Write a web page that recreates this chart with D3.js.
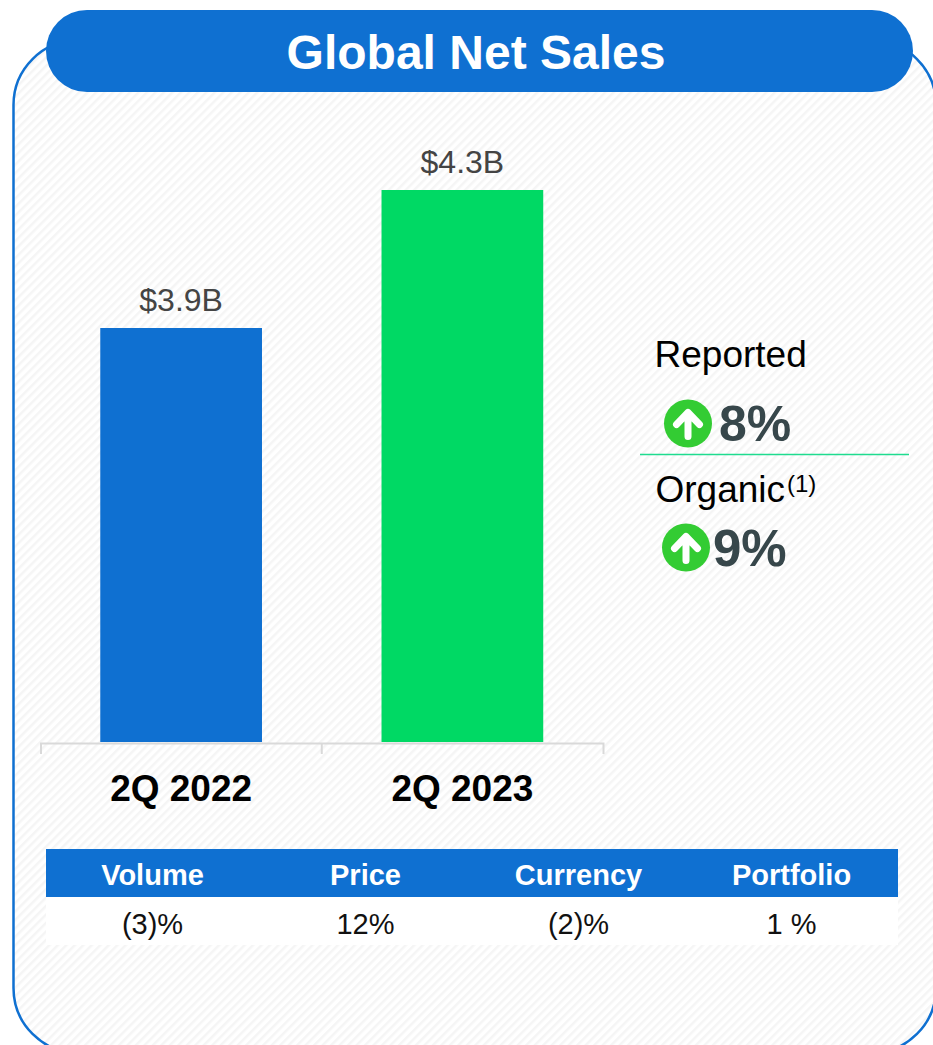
<!DOCTYPE html>
<html>
<head>
<meta charset="utf-8">
<script src="https://cdn.jsdelivr.net/npm/d3@7/dist/d3.min.js"></script>
<style>
html,body{margin:0;padding:0;background:#fff;overflow:hidden}
svg{display:block}
text{font-family:"Liberation Sans",Arial,sans-serif}
</style>
</head>
<body>
<svg id="chart" width="933" height="1045"></svg>
<script>
const title = "Global Net Sales";
const periods = ["2Q 2022", "2Q 2023"];
const salesBillions = [3.9, 4.3];
const salesLabels = ["$3.9B", "$4.3B"];
const growthNames = ["Reported", "Organic"];
const growthValues = ["8%", "9%"];
const driverNames = ["Volume", "Price", "Currency", "Portfolio"];
const driverValues = ["(3)%", "12%", "(2)%", "1 %"];

const BLUE = "#0F70D1", GREEN = "#00D964", ICON = "#33CC33";
const svg = d3.select("#chart");
const defs = svg.append("defs");
const pat = defs.append("pattern").attr("id","hatch").attr("patternUnits","userSpaceOnUse")
  .attr("width",6).attr("height",6).attr("patternTransform","rotate(45)");
pat.append("rect").attr("width",6).attr("height",6).attr("fill","#fff");
pat.append("rect").attr("width",2.5).attr("height",6).attr("fill","#f5f5f5");

// panel
svg.append("rect").attr("x",13.5).attr("y",40).attr("width",922.5).attr("height",1013).attr("rx",65)
  .attr("fill","url(#hatch)").attr("stroke",BLUE).attr("stroke-width",2.5);

// title pill
svg.append("rect").attr("x",46).attr("y",10).attr("width",867).attr("height",82).attr("rx",41).attr("fill",BLUE);
svg.append("text").attr("x",476).attr("y",69).attr("text-anchor","middle").attr("fill","#fff")
  .attr("font-size",48).attr("font-weight","bold").text(title);

// bars
const x = d3.scaleBand().domain(periods).range([40.5,603]).paddingInner(0.425).paddingOuter(0.2125);
const y = d3.scaleLinear().domain([2.7,4.3]).range([742,190]);
const plot = svg.append("g");
plot.selectAll("rect.bar").data(periods).join("rect").attr("class","bar")
  .attr("x",d=>x(d)).attr("width",x.bandwidth())
  .attr("y",(d,i)=>y(salesBillions[i])).attr("height",(d,i)=>y.range()[0]-y(salesBillions[i]))
  .attr("fill",(d,i)=>i?GREEN:BLUE);
plot.selectAll("text.val").data(periods).join("text").attr("class","val")
  .attr("x",d=>x(d)+x.bandwidth()/2).attr("y",(d,i)=>y(salesBillions[i])-17)
  .attr("text-anchor","middle").attr("font-size",32).attr("fill","#444")
  .text((d,i)=>salesLabels[i]);

// axis
const axis = svg.append("g").attr("transform","translate(0,743)")
  .call(d3.axisBottom(x).tickSize(0).tickPadding(32).tickSizeOuter(11));
axis.select(".domain").attr("stroke","#d9d9d9").attr("stroke-width",2);
axis.selectAll(".tick text").attr("font-size",37).attr("font-weight","bold").attr("fill","#000")
  .attr("font-family",'"Liberation Sans",Arial,sans-serif').attr("dy","0.71em");
const midTick = x.range()[0] + x.step();
axis.append("line").attr("x1",midTick).attr("x2",midTick).attr("y1",0).attr("y2",11)
  .attr("stroke","#d9d9d9").attr("stroke-width",2);

// growth callouts
const labelXs = [654.5,655.5], labelYs = [367,502];
const iconCx = [688,686], iconCy = [423.5,547.5], pctX = [719,713], pctY = [441,566], pctSize = [50,51];
const growth = svg.append("g");
growth.selectAll("text.name").data(growthNames).join("text").attr("class","name")
  .attr("x",(d,i)=>labelXs[i]).attr("y",(d,i)=>labelYs[i]).attr("font-size",37).attr("fill","#000").text(d=>d);
svg.append("text").attr("x",787).attr("y",492).attr("font-size",24).attr("fill","#000").text("(1)");
growth.selectAll("circle").data(growthValues).join("circle")
  .attr("cx",(d,i)=>iconCx[i]).attr("cy",(d,i)=>iconCy[i]).attr("r",24).attr("fill",ICON);
growth.selectAll("path").data(growthValues).join("path")
  .attr("transform",(d,i)=>`translate(${iconCx[i]},${iconCy[i]})`)
  .attr("d","M0,-11V13M-11.5,1L0,-11L11.5,1").attr("fill","none").attr("stroke","#fff")
  .attr("stroke-width",7).attr("stroke-linecap","round").attr("stroke-linejoin","round");
growth.selectAll("text.pct").data(growthValues).join("text").attr("class","pct")
  .attr("x",(d,i)=>pctX[i]).attr("y",(d,i)=>pctY[i]).attr("font-size",(d,i)=>pctSize[i]).attr("font-weight","bold")
  .attr("fill","#37474B").text(d=>d);
svg.append("line").attr("x1",640).attr("x2",909).attr("y1",454.5).attr("y2",454.5)
  .attr("stroke","#1FDC8F").attr("stroke-width",1.5);

// table
const tx = d3.scaleBand().domain(driverNames).range([46,898]);
svg.append("rect").attr("x",46).attr("y",897).attr("width",852).attr("height",48).attr("fill","#fff");
svg.append("rect").attr("x",46).attr("y",849).attr("width",852).attr("height",48).attr("fill",BLUE);
svg.selectAll("text.th").data(driverNames).join("text").attr("class","th")
  .attr("x",d=>tx(d)+tx.bandwidth()/2).attr("y",885).attr("text-anchor","middle")
  .attr("font-size",29).attr("font-weight","bold").attr("fill","#fff").text(d=>d);
svg.selectAll("text.td").data(driverNames).join("text").attr("class","td")
  .attr("x",d=>tx(d)+tx.bandwidth()/2).attr("y",934).attr("text-anchor","middle")
  .attr("font-size",29).attr("fill","#111").text((d,i)=>driverValues[i]);
</script>
</body>
</html>
